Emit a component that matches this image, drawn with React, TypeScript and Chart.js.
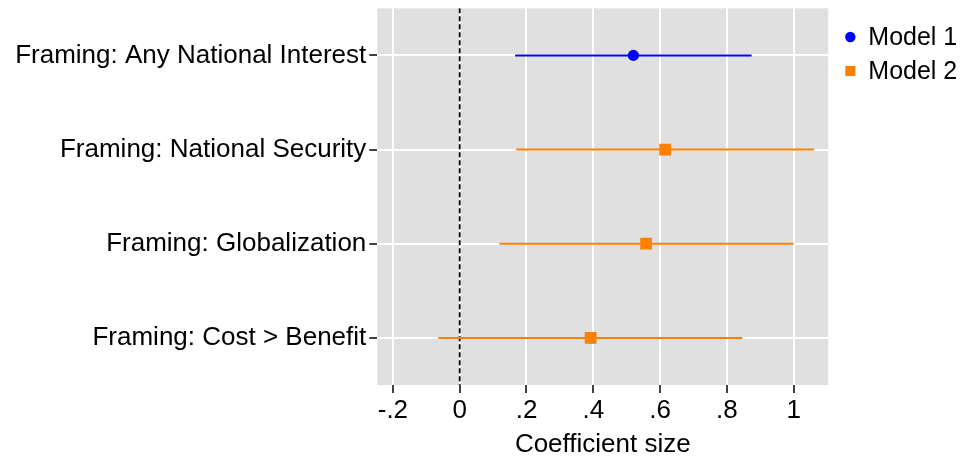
import React, { useEffect, useRef } from "react";
import { Chart, registerables } from "chart.js";
Chart.register(...registerables);

const categories = [
  "Framing: Any National Interest",
  "Framing: National Security",
  "Framing: Globalization",
  "Framing: Cost > Benefit",
];
const models = ["Model 1", "Model 2"];
const rowModel = [0, 1, 1, 1];
const estimates = [0.52, 0.615, 0.558, 0.392];
const lower = [0.166, 0.169, 0.119, -0.064];
const upper = [0.874, 1.061, 0.999, 0.846];
const xTicks = [-0.2, 0, 0.2, 0.4, 0.6, 0.8, 1];
const xTickLabels = ["-.2", "0", ".2", ".4", ".6", ".8", "1"];
const modelColors = ["#0000ff", "#ff7f00"];
const modelStyles = ["circle", "rect"];
const FONT = "'Liberation Sans', Arial, Helvetica, sans-serif";

const bgPlugin = {
  id: "plotBg",
  beforeDraw(chart: any) {
    const { ctx, chartArea } = chart;
    ctx.save();
    ctx.fillStyle = "#e0e0e0";
    ctx.fillRect(chartArea.left, chartArea.top, chartArea.right - chartArea.left, chartArea.bottom - chartArea.top);
    ctx.restore();
  },
};

const legendPlugin = {
  id: "customLegend",
  afterDraw(chart: any) {
    const { ctx, chartArea } = chart;
    const x0 = chartArea.right + 22;
    const ys = [37, 71];
    ctx.save();
    models.forEach((m, i) => {
      ctx.fillStyle = modelColors[i];
      if (modelStyles[i] === "circle") {
        ctx.beginPath();
        ctx.arc(x0, ys[i], 5.2, 0, Math.PI * 2);
        ctx.fill();
      } else {
        ctx.fillRect(x0 - 5, ys[i] - 5, 10, 10);
      }
      ctx.fillStyle = "#000";
      ctx.font = `25px ${FONT}`;
      ctx.textBaseline = "middle";
      ctx.textAlign = "left";
      ctx.fillText(m, x0 + 18, ys[i] + 1);
    });
    ctx.restore();
  },
};

export default function App() {
  const ref = useRef<HTMLCanvasElement | null>(null);
  useEffect(() => {
    if (!ref.current) return;
    const ciSets = categories.map((c, i) => ({
      label: `${c} CI`,
      data: [
        { x: lower[i], y: i + 1 },
        { x: upper[i], y: i + 1 },
      ],
      showLine: true,
      borderColor: modelColors[rowModel[i]],
      borderWidth: 2,
      pointRadius: 0,
      order: 1,
    }));
    const ptSets = models.map((m, mi) => ({
      label: m,
      data: categories
        .map((_, i) => (rowModel[i] === mi ? { x: estimates[i], y: i + 1 } : null))
        .filter((d) => d !== null),
      showLine: false,
      pointStyle: modelStyles[mi],
      pointRadius: mi === 0 ? 5.6 : 8.3,
      backgroundColor: modelColors[mi],
      borderColor: modelColors[mi],
      borderWidth: 0,
      order: 0,
    }));
    const zeroSet = {
      label: "zero",
      data: [
        { x: 0, y: 0.5 },
        { x: 0, y: 4.5 },
      ],
      showLine: true,
      borderColor: "#000",
      borderWidth: 1.8,
      borderDash: [5, 3],
      pointRadius: 0,
      order: 2,
    };
    const chart = new Chart(ref.current, {
      type: "scatter",
      data: { datasets: [...ptSets, ...ciSets, zeroSet] as any },
      options: {
        animation: false,
        responsive: false,
        layout: { padding: { top: 7, right: 140.7, left: 0, bottom: 0 } },
        plugins: { legend: { display: false }, tooltip: { enabled: false } },
        scales: {
          x: {
            type: "linear",
            min: -0.2467,
            max: 1.1036,
            afterBuildTicks: (s: any) => {
              s.ticks = xTicks.map((v) => ({ value: v }));
            },
            afterFit: (s: any) => {
              s.height = 78;
              s.paddingLeft = 0;
              s.paddingRight = 0;
            },
            ticks: {
              color: "#000",
              font: { family: FONT, size: 26 },
              padding: 2,
              maxRotation: 0,
              callback: (v: any) => {
                const k = xTicks.findIndex((t) => Math.abs(t - Number(v)) < 1e-9);
                return k >= 0 ? xTickLabels[k] : "";
              },
            },
            grid: { color: "#ffffff", lineWidth: 2, tickColor: "#000", tickLength: 8, tickWidth: 1.5 },
            border: { display: false },
            title: {
              display: true,
              text: "Coefficient size",
              color: "#000",
              font: { family: FONT, size: 26 },
              padding: { top: 0, bottom: 3 },
            },
          },
          y: {
            type: "linear",
            min: 0.5,
            max: 4.5,
            reverse: true,
            afterBuildTicks: (s: any) => {
              s.ticks = categories.map((_, i) => ({ value: i + 1 }));
            },
            afterFit: (s: any) => {
              s.width = 377.3;
              s.paddingTop = 0;
              s.paddingBottom = 0;
            },
            ticks: {
              color: "#000",
              font: { family: FONT, size: 26 },
              padding: 3,
              callback: (v: any) => categories[Math.round(Number(v)) - 1] ?? "",
            },
            grid: { color: "#ffffff", lineWidth: 2, tickColor: "#000", tickLength: 8, tickWidth: 1.5 },
            border: { display: false },
          },
        },
      },
      plugins: [bgPlugin, legendPlugin],
    });
    return () => chart.destroy();
  }, []);
  return (
    <div style={{ position: "fixed", left: 0, top: 0, width: 969, height: 463, background: "#fff" }}>
      <canvas ref={ref} width={969} height={463} style={{ display: "block" }} />
    </div>
  );
}
